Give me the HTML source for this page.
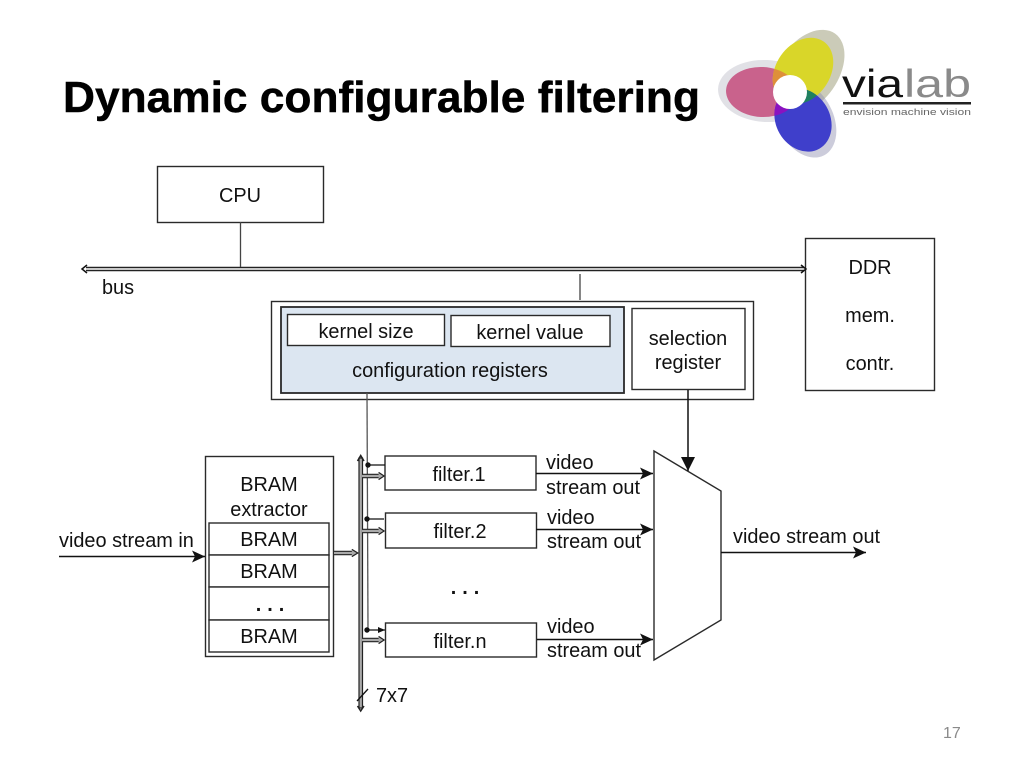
<!DOCTYPE html>
<html><head><meta charset="utf-8">
<style>html,body{margin:0;padding:0;background:#fff}svg{display:block}
text{font-family:"Liberation Sans",sans-serif;font-size:19.9px;fill:#111}</style></head>
<body>
<svg width="1024" height="768" viewBox="0 0 1024 768" xmlns="http://www.w3.org/2000/svg">
<defs>
<marker id="a" markerWidth="14" markerHeight="14" refX="13" refY="7" orient="auto" markerUnits="userSpaceOnUse"><path d="M0 1L13 7L0 13L3 7Z" fill="#111"/></marker>
<marker id="v" markerWidth="14" markerHeight="16" refX="14" refY="7" orient="auto" markerUnits="userSpaceOnUse"><path d="M0 0L14 7L0 14Z" fill="#111"/></marker>
<marker id="s" markerWidth="8" markerHeight="8" refX="7" refY="4" orient="auto" markerUnits="userSpaceOnUse"><path d="M0 1L7 4L0 7Z" fill="#111"/></marker>
<g id="dbl"><path d="M0 0H23" stroke="#222" stroke-width="5.500"/><path d="M0 0H24" stroke="#aaa" stroke-width="2.800"/><path d="M21 -4.500L28 0L21 4.500" fill="#aaa" stroke="#222" stroke-width="1.500"/></g>
<clipPath id="cp"><ellipse cx="762" cy="92" rx="36" ry="25" transform="rotate(3 762 92)"/></clipPath>
<clipPath id="cb"><ellipse cx="803" cy="120" rx="27" ry="33" transform="rotate(-30 803 120)"/></clipPath>
</defs>
<text x="63" y="112" textLength="637" lengthAdjust="spacingAndGlyphs" stroke="#000" stroke-width=".5" style="font-size:44px;font-weight:bold;fill:#000">Dynamic configurable filtering</text>

<!-- logo -->
<g>
<ellipse cx="766" cy="91" rx="48" ry="31" fill="#a8a8b8" opacity=".35" transform="rotate(3 766 91)"/>
<ellipse cx="808" cy="72" rx="30" ry="47" fill="#a8a888" opacity=".6" transform="rotate(35 808 72)"/>
<ellipse cx="805" cy="119" rx="28" ry="41" fill="#8e8eb0" opacity=".45" transform="rotate(-28 805 119)"/>
<ellipse cx="762" cy="92" rx="36" ry="25" fill="#c9628c" transform="rotate(3 762 92)"/>
<ellipse cx="803" cy="71" rx="27" ry="36" fill="#d9d629" transform="rotate(35 803 71)"/>
<ellipse cx="803" cy="120" rx="27" ry="33" fill="#3f3fcb" transform="rotate(-30 803 120)"/>
<g clip-path="url(#cp)">
<ellipse cx="803" cy="71" rx="27" ry="36" fill="#de8f3a" transform="rotate(35 803 71)"/>
<ellipse cx="803" cy="120" rx="27" ry="33" fill="#8a12c0" transform="rotate(-30 803 120)"/>
</g>
<g clip-path="url(#cb)">
<ellipse cx="803" cy="71" rx="27" ry="36" fill="#208060" transform="rotate(35 803 71)"/>
</g>
<circle cx="790" cy="92" r="17" fill="#fff"/>
<text x="842" y="97" textLength="61" lengthAdjust="spacingAndGlyphs" style="font-size:39px;fill:#111">via</text>
<text x="904" y="97" textLength="67" lengthAdjust="spacingAndGlyphs" style="font-size:39px;fill:#8a8a8a">lab</text>
<rect x="843" y="102" width="128" height="2.500" fill="#222"/>
<text x="843" y="115" textLength="128" lengthAdjust="spacingAndGlyphs" style="font-size:9.500px;fill:#666">envision machine vision</text>
</g>

<g fill="#fff" stroke="#2a2a2a" stroke-width="1.4">
<rect x="157.500" y="166.500" width="166" height="56"/>
<rect x="805.500" y="238.500" width="129" height="152"/>
<rect x="271.500" y="301.500" width="482" height="98"/>
<rect x="281" y="307" width="343" height="86" fill="#dce6f1" stroke-width="1.800"/>
<rect x="287.500" y="314.500" width="157" height="31"/>
<rect x="451" y="315.500" width="159" height="31"/>
<rect x="632" y="308.500" width="113" height="81"/>
<rect x="205.500" y="456.500" width="128" height="200"/>
<rect x="209" y="523" width="120" height="32"/>
<rect x="209" y="555" width="120" height="32"/>
<rect x="209" y="587" width="120" height="33"/>
<rect x="209" y="620" width="120" height="32"/>
<rect x="385" y="456" width="151" height="34"/>
<rect x="385.500" y="513" width="151" height="35"/>
<rect x="385.500" y="623" width="151" height="34"/>
<path d="M654 451L721 491V620L654 660Z"/>
</g>

<!-- bus -->
<path d="M86 267.500H804M86 270.500H804" stroke="#222" stroke-width="1.600" fill="none"/>
<path d="M87 265L82 269L87 273M801 265L806 269L801 273" fill="none" stroke="#111" stroke-width="1.500"/>
<path d="M240.500 222V267M580 274V300" stroke="#444" stroke-width="1.300"/>

<!-- config line -->
<path d="M367 393L368 629" stroke="#555" stroke-width="1.300" fill="none"/>
<!-- vertical bus -->
<rect x="359" y="458" width="3.500" height="250" fill="#aaa" stroke="#222" stroke-width="1.200"/>
<path d="M357.500 461L360.700 455.500L364 461M357.500 706L360.700 711L364 706" fill="none" stroke="#222" stroke-width="1.500"/>
<path d="M357 701L368 689" stroke="#111" stroke-width="1.300"/>

<g fill="#111">
<circle cx="368" cy="465" r="2.700"/><circle cx="367" cy="519" r="2.700"/><circle cx="367" cy="630" r="2.700"/>
</g>
<path d="M368 465H385M367 519H384M367 630H385" stroke="#111" stroke-width="1.300" marker-end="url(#s)"/>
<use href="#dbl" transform="translate(362 476) scale(.79 .8)"/>
<use href="#dbl" transform="translate(362 531) scale(.79 .8)"/>
<use href="#dbl" transform="translate(362 640) scale(.79 .8)"/>
<use href="#dbl" transform="translate(334 553) scale(.85 .8)"/>

<g stroke="#111" stroke-width="1.500" fill="none">
<path d="M59 556.500H205" marker-end="url(#a)"/>
<path d="M536 473.500H653" marker-end="url(#a)"/>
<path d="M536 529.500H653" marker-end="url(#a)"/>
<path d="M537 639.500H653" marker-end="url(#a)"/>
<path d="M721 552.500H866" marker-end="url(#a)"/>
<path d="M688 390V471" marker-end="url(#v)"/>
</g>

<g text-anchor="middle">
<text x="240" y="202">CPU</text>
<text x="870" y="274">DDR</text>
<text x="870" y="322">mem.</text>
<text x="870" y="370">contr.</text>
<text x="366" y="338">kernel size</text>
<text x="530" y="339">kernel value</text>
<text x="450" y="377">configuration registers</text>
<text x="688" y="345">selection</text>
<text x="688" y="369">register</text>
<text x="269" y="491">BRAM</text>
<text x="269" y="516">extractor</text>
<text x="269" y="546">BRAM</text>
<text x="269" y="578">BRAM</text>
<text x="269" y="643">BRAM</text>
<text x="273" y="611" style="letter-spacing:6px;font-weight:bold">...</text>
<text x="459" y="481">filter.1</text>
<text x="460" y="538">filter.2</text>
<text x="460" y="648">filter.n</text>
<text x="468" y="594" style="letter-spacing:6px;font-weight:bold">...</text>
</g>
<text x="102" y="294">bus</text>
<text x="59" y="547">video stream in</text>
<text x="546" y="469">video</text><text x="546" y="494">stream out</text>
<text x="547" y="524">video</text><text x="547" y="548">stream out</text>
<text x="547" y="633">video</text><text x="547" y="657">stream out</text>
<text x="733" y="543">video stream out</text>
<text x="376" y="702">7x7</text>
<text x="943" y="738" style="font-size:16px;fill:#8a8a8a">17</text>
</svg>
</body></html>
